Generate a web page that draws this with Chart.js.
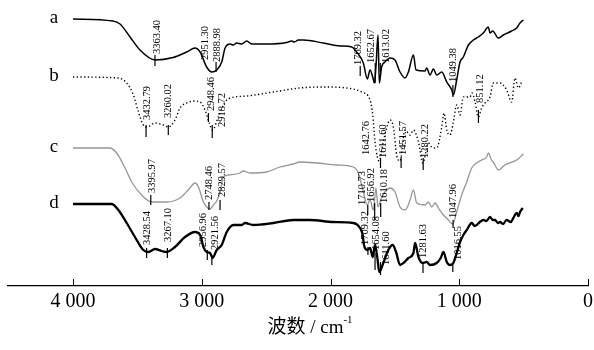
<!DOCTYPE html>
<html>
<head>
<meta charset="utf-8">
<script src="https://cdn.jsdelivr.net/npm/chart.js@4.4.0/dist/chart.umd.min.js"></script>
<style>
  html, body { margin: 0; padding: 0; background: #fff; }
  #wrap { width: 594px; height: 350px; }
</style>
</head>
<body>
<div id="wrap"><canvas id="ftir"></canvas></div>
<script>
// FTIR spectra a-d, [wavenumber (cm-1), offset transmittance (a.u.)]
var specA = [[4000,267],[3690,265],[3635,262],[3557,249],[3480,236],[3363,226],[3223,228.5],[3117,234],[3052,238],[3013,234],[2962,219],[2923,214],[2884,216],[2845,224],[2819,238],[2780,242],[2757,241],[2728,243],[2690,242],[2651,245],[2612,242],[2496,242],[2340,243.5],[2302,245],[2280,244],[2250,246],[2211,246],[2056,243],[1926,240],[1835,239],[1797,234],[1745,223],[1714,207],[1693,216],[1672,209],[1659,203],[1647,219],[1631,251],[1621,203],[1603,219],[1577,224],[1538,228],[1499,226],[1460,214],[1421,208],[1395,214],[1356,231],[1336,216],[1266,215],[1253,218],[1227,211],[1201,217],[1175,211],[1136,214],[1097,204],[1058,196],[1046,191],[1020,206],[994,224],[968,229],[929,241],[890,246],[852,249],[813,253],[774,259],[761,253],[740,255],[697,248],[658,251],[593,255],[554,258],[528,263],[502,266]];
var specB = [[4000,209],[3648,208],[3583,203],[3531,191],[3492,174],[3454,161],[3423,159],[3363,163],[3298,161],[3259,159],[3208,166],[3169,178],[3117,183],[3065,185],[3013,184],[2975,176],[2936,161],[2916,156],[2872,169],[2819,184],[2780,188],[2651,190],[2444,194],[2237,198],[2056,199],[1874,198],[1758,194],[1693,186],[1672,171],[1654,144],[1636,129],[1621,125],[1595,141],[1564,158],[1538,166],[1512,159],[1486,131],[1460,125],[1421,156],[1382,151],[1356,156],[1317,144],[1283,123],[1240,143],[1214,139],[1175,138],[1136,159],[1118,173],[1097,156],[1072,151],[1046,164],[1020,181],[994,171],[968,189],[917,189],[900,193],[877,184],[852,169],[826,178],[800,183],[761,189],[735,203],[683,203],[632,196],[593,184],[567,208],[541,198],[515,204]];
var specC = [[4000,138],[3713,138],[3661,133],[3596,118],[3544,104],[3467,91],[3389,84],[3273,84],[3169,88],[3105,96],[3052,103],[3026,99],[2987,84],[2962,79],[2936,77],[2910,81],[2884,85],[2858,94],[2832,109],[2793,111],[2703,113],[2680,115],[2625,113],[2496,114],[2392,119],[2289,122],[2237,124],[2108,123],[1952,121],[1823,119],[1784,113],[1745,94],[1714,81],[1693,86],[1667,76],[1647,98],[1631,79],[1610,86],[1577,94],[1538,98],[1499,94],[1460,79],[1421,76],[1387,84],[1356,96],[1330,83],[1266,81],[1240,84],[1214,79],[1188,83],[1162,78],[1123,71],[1085,66],[1051,62],[1020,74],[981,91],[942,104],[903,118],[865,123],[826,126],[787,129],[774,133],[750,126],[735,124],[697,116],[645,121],[554,126],[502,132]];
var specD = [[4000,82],[3700,82],[3648,76],[3583,63],[3519,49],[3454,36],[3415,34],[3363,37],[3311,35],[3273,34],[3208,39],[3130,49],[3052,54],[3013,51],[2987,39],[2962,34],[2936,33],[2916,28],[2884,36],[2845,41],[2806,54],[2754,61],[2690,61],[2664,63],[2600,61],[2444,63],[2289,66],[2159,66],[1978,64],[1823,63],[1771,58],[1750,51],[1740,41],[1714,36],[1693,38],[1672,29],[1654,41],[1636,28],[1621,14],[1590,23],[1551,36],[1517,41],[1491,34],[1460,21],[1434,23],[1395,28],[1356,33],[1343,43],[1317,29],[1283,23],[1253,24],[1227,21],[1175,23],[1144,28],[1123,34],[1097,24],[1072,21],[1046,23],[1020,33],[994,44],[968,51],[942,56],[903,63],[880,60],[865,61],[840,64],[813,66],[790,65],[761,69],[740,66],[722,66],[700,63],[683,64],[660,62],[632,66],[600,64],[580,68],[554,73],[540,70],[528,74],[507,78]];

var curveNames = ["a", "b", "c", "d"];
var xTicks = [0, 1000, 2000, 3000, 4000];

// peak labels: text, wavenumber of the mark, mark top/bottom, text x shift (px), text base
var peaksA = [
  ["3363.40", 3363.4, 231, 220, 2, 232],
  ["2951.30", 2951.3, null, null, -3, 226],
  ["2888.98", 2889, 224, 214, 1, 224],
  ["1769.32", 1769.3, 220, 210, -2, 221],
  ["1652.67", 1652.7, 223, 203, -3.5, 223],
  ["1613.02", 1613, 223, 214, 6, 223],
  ["1049.38", 1049.4, 201, 189, 0, 204]
];
var peaksB = [
  ["3432.79", 3432.8, 161, 149, 1, 166],
  ["3260.02", 3260, 161, 151, 0, 168],
  ["2948.46", 2948.5, 173, 164, 3, 175],
  ["2918.72", 2918.7, 161, 148, 10, 159],
  ["1642.76", 1642.8, null, null, -10, 131],
  ["1611.60", 1611.6, 128, 118, 3, 128],
  ["1451.57", 1451.6, 129, 118, 2, 131],
  ["1280.22", 1280.2, 128, 116, 2, 128],
  ["851.12", 851.1, 176, 163, 2, 183]
];
var peaksC = [
  ["3395.97", 3396, 91, 81, 1, 93],
  ["2748.46", 2944, 84, 76, 0, 86],
  ["2829.57", 2858, 86, 76, 2, 89],
  ["1710.73", 1710.7, 81, 71, -6, 81],
  ["1656.92", 1656.9, 83, 66, -3, 84],
  ["1610.18", 1610.2, 83, 69, 4, 83],
  ["1047.96", 1048, 66, 58, 0, 68]
];
var peaksD = [
  ["3428.54", 3428.5, 38, 28, 1, 41],
  ["3267.10", 3267.1, 38, 28, 1, 44],
  ["2956.96", 2957, 36, 26, -4, 39],
  ["2921.56", 2921.6, 31, 21, 3, 36],
  ["1709.32", 1709.3, 39, 31, -3, 41],
  ["1654.08", 1654.1, 33, 16, 1, 36],
  ["1611.60", 1611.6, 24, 11, 6, 21],
  ["1281.63", 1281.6, 23, 13, 0, 28],
  ["1016.55", 1050, 23, 14, 5, 26]
];

var serif = '"Liberation Serif", "Times New Roman", serif';

function toXY(arr) {
  return arr.map(function (p) { return { x: p[0], y: p[1] }; });
}

var spectra = [specA, specB, specC, specD];
var peaks = [peaksA, peaksB, peaksC, peaksD];

var decor = {
  id: "decor",
  afterDatasetsDraw: function (chart) {
    var ctx = chart.ctx;
    var xs = chart.scales.x, ys = chart.scales.y;
    var area = chart.chartArea;
    ctx.save();
    ctx.strokeStyle = "#000";
    ctx.fillStyle = "#000";

    // axis ticks pointing up
    ctx.lineWidth = 1;
    xTicks.forEach(function (v) {
      var px = Math.round(xs.getPixelForValue(v)) + 0.5;
      ctx.beginPath();
      ctx.moveTo(px, area.bottom);
      ctx.lineTo(px, area.bottom - 7);
      ctx.stroke();
    });

    // curve letters
    ctx.font = "19px " + serif;
    ctx.textAlign = "center";
    ctx.textBaseline = "middle";
    spectra.forEach(function (s, i) {
      ctx.fillText(curveNames[i], xs.getPixelForValue(4000) - 19, ys.getPixelForValue(s[0][1]) - 1);
    });

    // peak marks and labels
    ctx.font = "10.5px " + serif;
    ctx.textAlign = "left";
    peaks.forEach(function (list) {
      list.forEach(function (p) {
        var px = xs.getPixelForValue(p[1]);
        if (p[2] !== null) {
          ctx.lineWidth = 1.2;
          ctx.beginPath();
          ctx.moveTo(px, ys.getPixelForValue(p[2]));
          ctx.lineTo(px, ys.getPixelForValue(p[3]));
          ctx.stroke();
        }
        ctx.save();
        ctx.translate(px + p[4], ys.getPixelForValue(p[5]));
        ctx.rotate(-Math.PI / 2);
        ctx.fillText(p[0], 0, 0);
        ctx.restore();
      });
    });

    // axis title with superscript
    var main = "波数 / cm", sup = "-1";
    ctx.font = "19px " + serif + ', "Noto Sans CJK SC"';
    var w1 = ctx.measureText(main).width;
    ctx.font = "11px " + serif;
    var w2 = ctx.measureText(sup).width;
    var x0 = 310 - (w1 + w2) / 2;
    ctx.textBaseline = "alphabetic";
    ctx.font = "19px " + serif + ', "Noto Sans CJK SC"';
    ctx.fillText(main, x0, 333);
    ctx.font = "11px " + serif;
    ctx.fillText(sup, x0 + w1, 323);
    ctx.restore();
  }
};

new Chart("ftir", {
  type: "line",
  data: {
    datasets: [
      { label: "a", data: toXY(specA), borderColor: "#000", borderWidth: 1.5 },
      { label: "b", data: toXY(specB), borderColor: "#000", borderWidth: 1.4, borderDash: [1.3, 2.4] },
      { label: "c", data: toXY(specC), borderColor: "#969696", borderWidth: 1.3 },
      { label: "d", data: toXY(specD), borderColor: "#000", borderWidth: 2.3 }
    ]
  },
  options: {
    responsive: true,
    maintainAspectRatio: false,
    animation: false,
    layout: { padding: { left: 8, right: 6, top: 0, bottom: 0 } },
    elements: {
      point: { radius: 0 },
      line: { cubicInterpolationMode: "monotone", fill: false }
    },
    plugins: {
      legend: { display: false },
      title: { display: false },
      tooltip: { enabled: false }
    },
    scales: {
      x: {
        type: "linear",
        reverse: true,
        min: 0,
        max: 4505,
        grid: { display: false, drawTicks: false },
        border: { display: true, color: "#000", width: 1.2 },
        afterBuildTicks: function (scale) {
          scale.ticks = xTicks.map(function (v) { return { value: v }; });
        },
        ticks: {
          maxRotation: 0,
          autoSkip: false,
          padding: 4,
          color: "#000",
          font: { family: serif, size: 20 },
          callback: function (v) {
            return v >= 1000 ? Math.floor(v / 1000) + " 000" : String(v);
          }
        },
        afterFit: function (scale) { scale.height = 64; }
      },
      y: { display: false, min: 0, max: 286 }
    }
  },
  plugins: [decor]
});
</script>
</body>
</html>
